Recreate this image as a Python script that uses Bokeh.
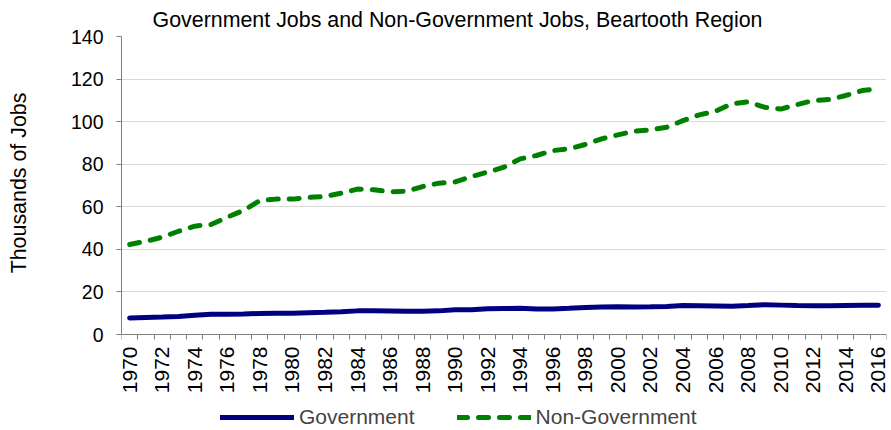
import math
from bokeh.plotting import figure
from bokeh.models import Range1d, FixedTicker, Legend, LegendItem, ColumnDataSource
from bokeh.embed import file_html
from bokeh.resources import INLINE

years = list(range(1970, 2017))
government = [7.8, 8.0, 8.2, 8.5, 9.0, 9.5, 9.5, 9.6, 9.9, 10.0,
              10.0, 10.2, 10.4, 10.7, 11.1, 11.1, 11.0, 10.9, 10.9, 11.1,
              11.6, 11.6, 12.1, 12.2, 12.3, 12.0, 12.0, 12.3, 12.7, 12.9,
              13.0, 12.9, 13.0, 13.2, 13.6, 13.5, 13.4, 13.3, 13.6, 14.0,
              13.8, 13.6, 13.5, 13.5, 13.6, 13.7, 13.8]
non_government = [42.3, 43.8, 45.7, 48.5, 50.9, 51.7, 55.1, 58.3, 62.9, 63.6,
                  63.6, 64.4, 64.8, 66.4, 68.3, 68.0, 67.0, 67.3, 69.5, 71.1,
                  71.7, 74.2, 76.3, 78.6, 82.5, 84.1, 86.4, 87.2, 89.3, 91.9,
                  93.8, 95.5, 96.1, 97.4, 100.5, 103.2, 104.9, 108.4, 109.3, 106.8,
                  105.9, 108.0, 109.9, 110.4, 112.3, 114.6, 115.4]
x_tick_labels = [str(y) for y in range(1970, 2017, 2)]
y_ticks = [0, 20, 40, 60, 80, 100, 120, 140]

FONT = "Liberation Sans"

src = ColumnDataSource(dict(year=years, gov=government, nongov=non_government))

# the frame reaches the bottom of the page; value 0 sits 96 px above it,
# leaving room below the x axis for its labels and the legend
Y_MAX = 140
Y_MIN = -Y_MAX * 96 / 298

p = figure(frame_width=765, frame_height=394, output_backend="svg", toolbar_location=None,
           x_range=Range1d(years[0] - 0.5, years[-1] + 0.5), y_range=Range1d(Y_MIN, Y_MAX),
           min_border_left=121, min_border_right=5, min_border_top=36, min_border_bottom=0)
p.outline_line_color = None
p.background_fill_color = "white"
p.border_fill_color = "white"

p.title.text = "Government Jobs and Non-Government Jobs, Beartooth Region"
p.title.text_font = FONT
p.title.text_font_size = "21.4px"
p.title.text_font_style = "normal"
p.title.text_color = "black"
p.title.align = "left"
p.title.offset = 31

r1 = p.line("year", "gov", source=src, line_color="#000080", line_width=5, line_cap="round")
r2 = p.line("year", "nongov", source=src, line_color="#008000", line_width=5,
            line_dash="10 11", line_cap="round")

# x axis, drawn at value 0
p.xaxis.fixed_location = 0
p.xaxis.ticker = FixedTicker(ticks=[int(t) for t in x_tick_labels],
                             minor_ticks=[y - 0.5 for y in years] + [years[-1] + 0.5])
p.xaxis.major_tick_out = 0
p.xaxis.major_tick_in = 0
p.xaxis.minor_tick_out = 5
p.xaxis.minor_tick_in = 0
p.xaxis.minor_tick_line_color = "#808080"
p.xaxis.axis_line_color = "#808080"
p.xaxis.major_label_orientation = math.pi / 2
p.xaxis.major_label_text_font = FONT
p.xaxis.major_label_text_font_size = "21px"
p.xaxis.major_label_text_color = "black"
p.xaxis.major_label_standoff = 7
p.xgrid.grid_line_color = None

# y axis
p.yaxis.bounds = (0, Y_MAX)
p.yaxis.ticker = FixedTicker(ticks=y_ticks)
p.yaxis.minor_tick_line_color = None
p.yaxis.major_tick_out = 5
p.yaxis.major_tick_in = 0
p.yaxis.major_tick_line_color = "#808080"
p.yaxis.axis_line_color = "#808080"
p.yaxis.major_label_text_font = FONT
p.yaxis.major_label_text_font_size = "19.5px"
p.yaxis.major_label_text_color = "black"
p.yaxis.major_label_standoff = 13
# leading no-break spaces lift the label to the centre of the 0-140 span
p.yaxis.axis_label = "\u00a0" * 17 + "Thousands of Jobs"
p.yaxis.axis_label_text_font = FONT
p.yaxis.axis_label_text_font_size = "21.4px"
p.yaxis.axis_label_text_font_style = "normal"
p.yaxis.axis_label_text_color = "black"
p.yaxis.axis_label_standoff = 37
p.ygrid.grid_line_color = "#d9d9d9"

legend = Legend(items=[LegendItem(label="Government", renderers=[r1]),
                       LegendItem(label="Non-Government", renderers=[r2])],
                orientation="horizontal", location=(99, 1),
                border_line_color=None, background_fill_alpha=0,
                glyph_width=74, glyph_height=20, label_height=20, label_standoff=5, spacing=42,
                label_text_font=FONT, label_text_font_size="21px",
                padding=0, margin=0)
p.add_layout(legend, "center")

open("out.html", "w").write(file_html(p, INLINE))
